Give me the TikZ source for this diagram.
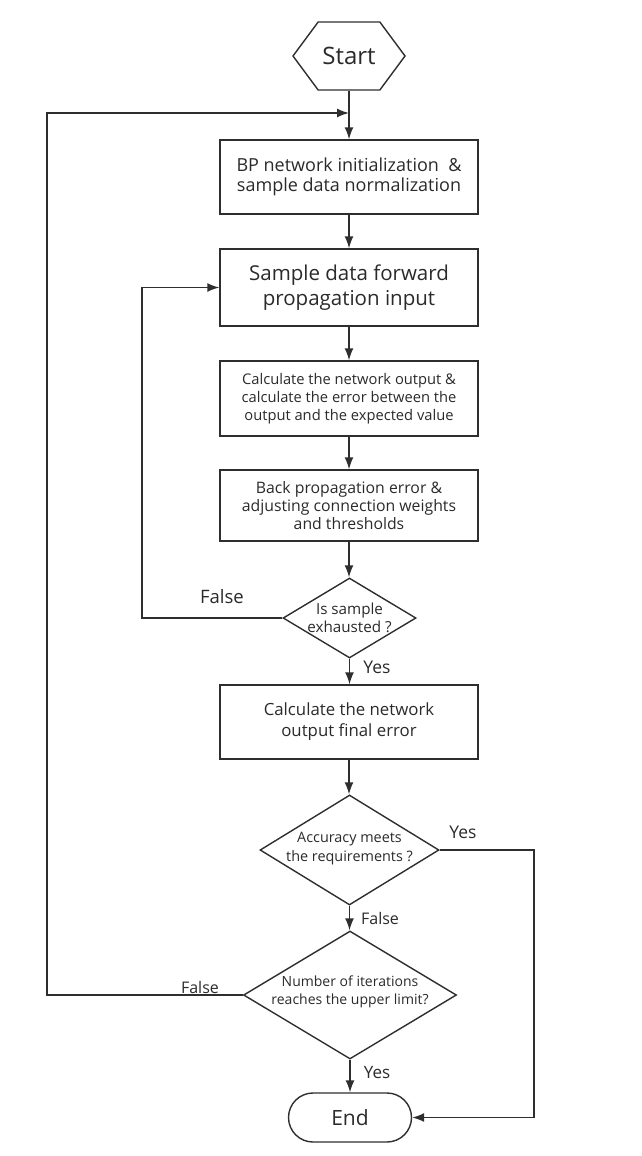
\documentclass[tikz,border=0pt]{standalone}
\usepackage{fontspec}
\setmainfont{Open Sans}
\usetikzlibrary{shapes.geometric,shapes.misc,shapes.symbols,arrows.meta}
\definecolor{ln}{HTML}{2E2E2E}
\definecolor{tx}{HTML}{2A2A2A}
\begin{document}
\begin{tikzpicture}[x=1pt,y=-1pt,
  line/.style={draw=ln,line width=1.4pt},
  arr/.style={line,-{Latex[length=12pt,width=9pt]}},
  box/.style={draw=ln,line width=1.4pt,minimum width=258pt,inner sep=0pt,align=center,text=tx},
  dia/.style={draw=ln,line width=1.4pt,diamond,inner sep=0pt},
  dtext/.style={align=center,text=tx,inner sep=0pt},
  lbl/.style={text=tx,inner sep=0pt}]
\useasboundingbox (0,0) rectangle (641,1156);
% Start
\node[draw=ln,line width=1.4pt,signal,signal to=west and east,signal pointer angle=107,
  minimum width=112pt,minimum height=68pt,inner sep=0pt,text=tx,font=\fontsize{24}{28}\selectfont] (start) at (349,56) {Start};
% boxes
\node[box,minimum height=74pt,font=\fontsize{18}{20}\selectfont] (b1) at (349,177)
  {BP network initialization\ \ \&\\sample data normalization};
\node[box,minimum height=77pt,font=\fontsize{20.5}{25}\selectfont] (b2) at (349,287.5)
  {Sample data forward\\propagation input};
\node[box,minimum height=75pt,font=\fontsize{14.7}{18}\selectfont] (b3) at (349,398.5)
  {Calculate the network output \&\\calculate the error between the\\output and the expected value};
\node[box,minimum height=71pt,font=\fontsize{15.8}{18}\selectfont] (b4) at (349,505.5)
  {Back propagation error \&\\adjusting connection weights\\and thresholds};
\node[dia,minimum width=133pt,minimum height=80pt] (d1) at (349.5,618) {};
\node[dtext,font=\fontsize{15.2}{18}\selectfont] at (d1) {Is sample\\exhausted ?};
\node[box,minimum height=74pt,font=\fontsize{16.8}{21}\selectfont] (b5) at (349,722)
  {Calculate the network\\output final error};
\node[dia,minimum width=179pt,minimum height=110pt] (d2) at (349.5,850) {};
\node[dtext,font=\fontsize{14.4}{19}\selectfont] at (349.5,849) {Accuracy meets\\the requirements ?};
\node[dia,minimum width=213pt,minimum height=128pt] (d3) at (350,995) {};
\node[dtext,font=\fontsize{14}{18}\selectfont] at (350,992) {Number of iterations\\reaches the upper limit?};
\node[draw=ln,line width=1.4pt,rounded rectangle,minimum width=123pt,minimum height=49pt,
  inner sep=0pt,text=tx,font=\fontsize{21}{24}\selectfont] (end) at (350,1117.5) {End};
% main flow
\coordinate (join) at (349,113);
\draw[arr] (start.south) -- (b1.north);
\draw[arr] (b1.south) -- (b2.north);
\draw[arr] (b2.south) -- (b3.north);
\draw[arr] (b3.south) -- (b4.north);
\draw[arr] (b4.south) -- (b4.south |- d1.north);
\draw[arr] (d1.south) -- (d1.south |- b5.north);
\draw[arr] (b5.south) -- (b5.south |- d2.north);
\draw[arr] (d2.south) -- (d2.south |- d3.north);
\draw[arr] (d3.south) -- (d3.south |- end.north);
% loops
\coordinate (l1) at (142,618);
\draw[arr] (d1.west) -- (l1) -- (142,287.5) -- (b2.west);
\coordinate (l2) at (47,995);
\draw[arr] (d3.west) -- (l2) -- (47,113) -- (join);
\coordinate (r1) at (534,850);
\draw[arr] (d2.east) -- (r1) -- (534,1117.5) -- (end.east);
% labels
\node[lbl,font=\fontsize{18.5}{22}\selectfont] at (222,597) {False};
\node[lbl,font=\fontsize{17.5}{20}\selectfont] at (377,667) {Yes};
\node[lbl,font=\fontsize{17.5}{20}\selectfont] at (463,832) {Yes};
\node[lbl,font=\fontsize{16}{18}\selectfont] at (380,918) {False};
\node[lbl,font=\fontsize{16}{18}\selectfont] at (200,987) {False};
\node[lbl,font=\fontsize{17}{20}\selectfont] at (377,1073) {Yes};
\end{tikzpicture}
\end{document}
